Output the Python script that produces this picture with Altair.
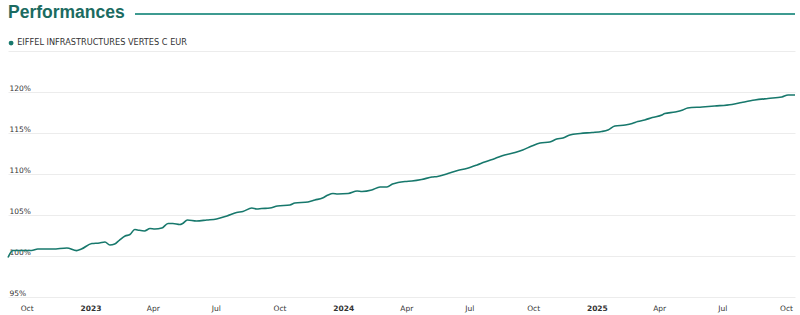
import altair as alt
import pandas as pd

series_name = "EIFFEL INFRASTRUCTURES VERTES C EUR"

dates = [
    "2022-09-04", "2022-09-11", "2022-10-08", "2022-10-17", "2022-11-08", "2022-11-28",
    "2022-12-12", "2022-12-19", "2023-01-03", "2023-01-14", "2023-01-22", "2023-01-29",
    "2023-02-05", "2023-02-12", "2023-02-20", "2023-02-27", "2023-03-06", "2023-03-10",
    "2023-03-20", "2023-03-28", "2023-04-04", "2023-04-14", "2023-04-23", "2023-04-30",
    "2023-05-10", "2023-05-14", "2023-05-21", "2023-06-03", "2023-06-18", "2023-07-02",
    "2023-07-17", "2023-07-31", "2023-08-09", "2023-08-22", "2023-08-29", "2023-09-05",
    "2023-09-17", "2023-09-28", "2023-10-16", "2023-10-23", "2023-11-11", "2023-11-21",
    "2023-12-02", "2023-12-10", "2023-12-17", "2023-12-24", "2024-01-08", "2024-01-21",
    "2024-01-28", "2024-02-11", "2024-02-23", "2024-03-04", "2024-03-12", "2024-03-20",
    "2024-03-30", "2024-04-09", "2024-04-23", "2024-05-08", "2024-05-16", "2024-05-31",
    "2024-06-14", "2024-06-27", "2024-07-12", "2024-07-23", "2024-08-07", "2024-08-21",
    "2024-09-05", "2024-09-16", "2024-09-29", "2024-10-11", "2024-10-25", "2024-11-04",
    "2024-11-13", "2024-11-23", "2024-12-08", "2024-12-25", "2025-01-08", "2025-01-17",
    "2025-01-27", "2025-02-11", "2025-02-21", "2025-03-01", "2025-03-11", "2025-03-22",
    "2025-04-05", "2025-04-09", "2025-04-24", "2025-05-05", "2025-05-12", "2025-06-02",
    "2025-06-20", "2025-07-15", "2025-07-29", "2025-08-17", "2025-09-05", "2025-09-25",
    "2025-10-04", "2025-10-14",
]

values = [
    99.82, 100.67, 100.67, 100.85, 100.85, 100.98,
    100.65, 100.85, 101.52, 101.59, 101.71, 101.34,
    101.46, 101.95, 102.44, 102.62, 103.23, 103.17,
    103.05, 103.35, 103.29, 103.41, 103.96, 103.96,
    103.84, 103.96, 104.39, 104.27, 104.39, 104.51,
    104.88, 105.30, 105.43, 105.85, 105.73, 105.79,
    105.85, 106.10, 106.22, 106.46, 106.59, 106.83,
    107.07, 107.44, 107.62, 107.56, 107.62, 107.93,
    107.87, 108.05, 108.41, 108.41, 108.78, 108.96,
    109.09, 109.15, 109.33, 109.63, 109.70, 110.06,
    110.43, 110.67, 111.10, 111.46, 111.89, 112.32,
    112.62, 112.93, 113.41, 113.78, 113.90, 114.27,
    114.39, 114.76, 114.94, 115.06, 115.18, 115.37,
    115.85, 115.98, 116.16, 116.40, 116.59, 116.89,
    117.20, 117.38, 117.56, 117.80, 118.05, 118.17,
    118.29, 118.48, 118.72, 119.02, 119.21, 119.39,
    119.63, 119.63,
]

y_ticks = [95, 100, 105, 110, 115, 120, 125]

df = pd.DataFrame({"date": dates, "value": values, "series": series_name})

TEAL = "#17786c"
TITLE_TEAL = "#1b6b61"
FONT = "DejaVu Sans"
FS = 7.5

line = alt.Chart(df).mark_line(strokeWidth=1.6, interpolate="monotone").encode(
    x=alt.X(
        "date:T",
        title=None,
        scale=alt.Scale(domain=["2022-09-04", "2025-10-14"]),
        axis=alt.Axis(
            grid=False,
            domain=False,
            ticks=False,
            labelPadding=7,
            labelFontSize=FS,
            labelColor="#333333",
            labelFont=FONT,
            tickCount={"interval": "month", "step": 3},
            labelExpr="month(datum.value) == 0 ? timeFormat(datum.value, '%Y') : timeFormat(datum.value, '%b')",
            labelFontWeight={"condition": {"test": "month(datum.value) == 0", "value": "bold"}, "value": "normal"},
            labelOverlap=False,
        ),
    ),
    y=alt.Y(
        "value:Q",
        title=None,
        scale=alt.Scale(domain=[95, 125], nice=False, zero=False),
        axis=alt.Axis(
            values=y_ticks,
            grid=True,
            gridColor="#ececec",
            gridWidth=1,
            domain=False,
            ticks=False,
            labelAlign="left",
            labelBaseline="bottom",
            labelPadding=-1,
            labelFontSize=FS,
            labelColor="#333333",
            labelFont=FONT,
            labelExpr="datum.value == 125 ? '' : datum.value + '%'",
        ),
    ),
    color=alt.Color(
        "series:N",
        scale=alt.Scale(range=[TEAL]),
        legend=alt.Legend(
            title=None,
            orient="none",
            legendX=-1,
            legendY=-12,
            symbolType="circle",
            symbolSize=24,
            symbolFillColor=TEAL,
            symbolStrokeWidth=0,
            labelFontSize=8.2,
            labelFont=FONT,
            labelColor="#333333",
            labelOffset=2,
            labelLimit=400,
        ),
    ),
)

title_rule = alt.Chart(df).mark_rule(color="#3f9a90", strokeWidth=1).encode(
    x=alt.value(127), x2=alt.value(787), y=alt.value(-37)
)

chart = alt.layer(line, title_rule).properties(
    width=787,
    height=246,
    autosize=alt.AutoSizeParams(type="none"),
    padding={"left": 8, "top": 51, "right": 5, "bottom": 18},
    title=alt.TitleParams(
        "Performances",
        anchor="start",
        fontSize=17.5,
        font="Liberation Sans",
        fontWeight="bold",
        color=TITLE_TEAL,
        offset=0,
        dy=8,
        frame="group",
    ),
).configure_view(stroke=None)

chart.save("out.html", embed_options={"renderer": "svg", "actions": False})
